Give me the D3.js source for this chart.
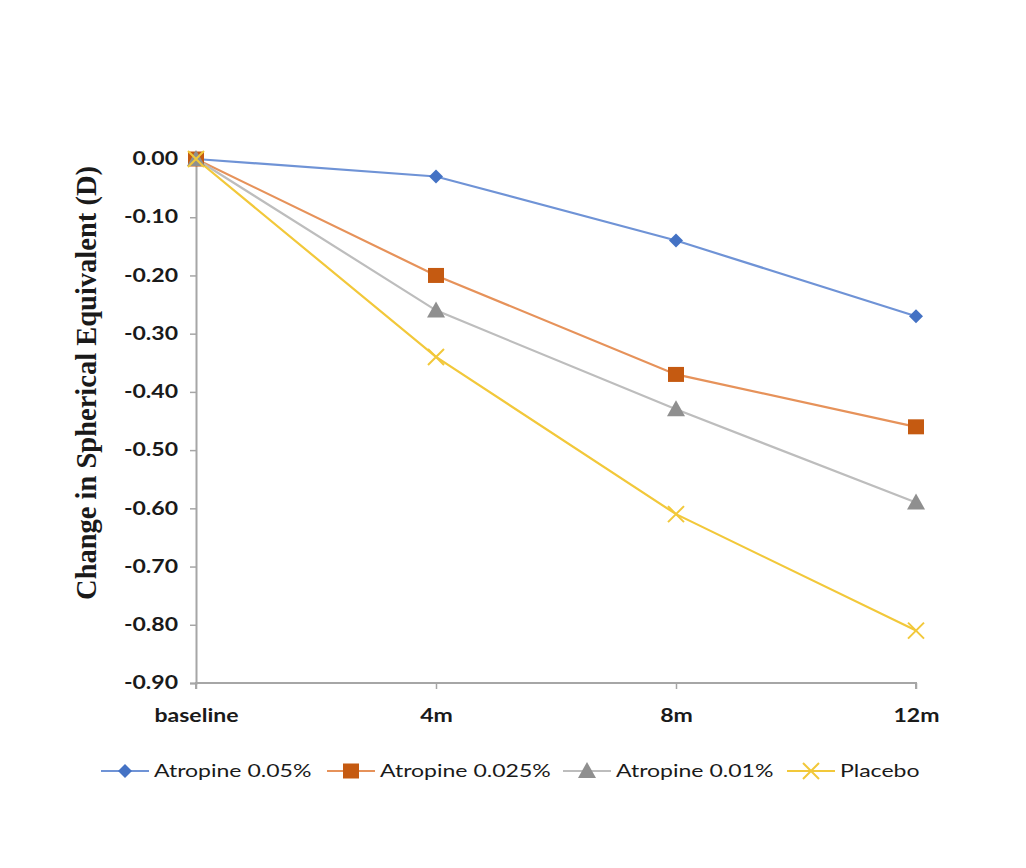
<!DOCTYPE html>
<html>
<head>
<meta charset="utf-8">
<script src="https://cdn.jsdelivr.net/npm/d3@7"></script>
<style>
  html, body { margin: 0; padding: 0; background: #fff; }
  #chart { width: 1026px; height: 868px; }
</style>
</head>
<body>
<div id="chart"></div>
<script>
(function () {
  const CATEGORIES = ["baseline", "4m", "8m", "12m"];
  const Y_TICKS = [0, -0.1, -0.2, -0.3, -0.4, -0.5, -0.6, -0.7, -0.8, -0.9];

  const SERIES_NAMES = ["Atropine 0.05%", "Atropine 0.025%", "Atropine 0.01%", "Placebo"];
  const ATROPINE_005 = [0, -0.03, -0.14, -0.27];
  const ATROPINE_0025 = [0, -0.20, -0.37, -0.46];
  const ATROPINE_001 = [0, -0.26, -0.43, -0.59];
  const PLACEBO = [0, -0.34, -0.61, -0.81];

  const series = [
    { name: SERIES_NAMES[0], values: ATROPINE_005, line: "#6f93d6", fill: "#4472c4", shape: "diamond" },
    { name: SERIES_NAMES[1], values: ATROPINE_0025, line: "#e6925a", fill: "#c55a11", shape: "square" },
    { name: SERIES_NAMES[2], values: ATROPINE_001, line: "#bdbdbd", fill: "#8f8f8f", shape: "triangle" },
    { name: SERIES_NAMES[3], values: PLACEBO, line: "#f2c83a", fill: "#f2c83a", shape: "x" }
  ];

  const W = 1026, H = 868;
  const margin = { top: 159, right: 110, bottom: 185, left: 196 };

  // the source picture is a little wide, so horizontal text is stretched to match
  const SX = 1.28;
  const stretch = (sel, ax) => sel.attr("transform", function () {
    const x0 = ax != null ? ax : +this.getAttribute("x") || 0;
    return `translate(${x0},0) scale(${SX},1) translate(${-x0},0)`;
  });

  const svg = d3.select("#chart").append("svg")
    .attr("width", W)
    .attr("height", H);

  const x = d3.scalePoint()
    .domain(CATEGORIES)
    .range([margin.left, W - margin.right]);

  const y = d3.scaleLinear()
    .domain([-0.9, 0])
    .range([H - margin.bottom, margin.top]);

  const axisColor = "#a6a6a6";
  const labelFont = "Lato, 'Open Sans', sans-serif";

  // y axis
  const gy = svg.append("g")
    .attr("transform", `translate(${margin.left},0)`)
    .call(d3.axisLeft(y).tickValues(Y_TICKS).tickFormat(d3.format(".2f")).tickSize(6).tickPadding(12));
  gy.select(".domain").attr("stroke", axisColor).attr("stroke-width", 2);
  gy.selectAll(".tick line").attr("stroke", axisColor).attr("stroke-width", 1.5);
  gy.selectAll("text")
    .attr("fill", "#1a1a1a")
    .attr("font-family", labelFont)
    .attr("font-weight", 700)
    .attr("font-size", 18)
    .text(d => d3.format(".2f")(d).replace("−", "-"))
    .call(stretch);

  // x axis
  const gx = svg.append("g")
    .attr("transform", `translate(0,${H - margin.bottom})`)
    .call(d3.axisBottom(x).tickSize(6).tickPadding(20));
  gx.select(".domain").attr("stroke", axisColor).attr("stroke-width", 2)
    .attr("d", `M${margin.left},6V0H${W - margin.right}V6`);
  gx.selectAll(".tick line").attr("stroke", axisColor).attr("stroke-width", 1.5);
  gx.selectAll("text")
    .attr("fill", "#1a1a1a")
    .attr("font-family", labelFont)
    .attr("font-weight", 700)
    .attr("font-size", 18)
    .call(stretch, 0);

  // y title
  svg.append("text")
    .attr("transform", "translate(96,383) rotate(-90)")
    .attr("text-anchor", "middle")
    .attr("font-family", "'Liberation Serif', 'Times New Roman', serif")
    .attr("font-weight", 700)
    .attr("font-size", 28.5)
    .attr("fill", "#1a1a1a")
    .text("Change in Spherical Equivalent (D)");

  function drawMarker(g, s, cx, cy) {
    if (s.shape === "diamond") {
      g.append("path").attr("d", `M${cx},${cy - 7}L${cx + 7},${cy}L${cx},${cy + 7}L${cx - 7},${cy}Z`).attr("fill", s.fill);
    } else if (s.shape === "square") {
      g.append("rect").attr("x", cx - 8).attr("y", cy - 7.5).attr("width", 16).attr("height", 15).attr("fill", s.fill);
    } else if (s.shape === "triangle") {
      g.append("path").attr("d", `M${cx},${cy - 9}L${cx + 9},${cy + 7}L${cx - 9},${cy + 7}Z`).attr("fill", s.fill);
    } else {
      g.append("path").attr("d", `M${cx - 8},${cy - 8}L${cx + 8},${cy + 8}M${cx - 8},${cy + 8}L${cx + 8},${cy - 8}`)
        .attr("stroke", s.fill).attr("stroke-width", 2).attr("fill", "none");
    }
  }

  const line = d3.line()
    .x((d, i) => x(CATEGORIES[i]))
    .y(d => y(d));

  const plotG = svg.append("g");
  series.forEach(s => {
    plotG.append("path")
      .datum(s.values)
      .attr("d", line)
      .attr("fill", "none")
      .attr("stroke", s.line)
      .attr("stroke-width", 2.2);
  });
  series.forEach(s => {
    const mg = plotG.append("g");
    s.values.forEach((v, i) => drawMarker(mg, s, x(CATEGORIES[i]), y(v)));
  });

  // legend
  const legendX = [101, 327, 563, 787];
  const legendY = 771;
  series.forEach((s, i) => {
    const lg = svg.append("g").attr("transform", `translate(${legendX[i]},${legendY})`);
    lg.append("line").attr("x1", 0).attr("x2", 48).attr("y1", 0).attr("y2", 0)
      .attr("stroke", s.line).attr("stroke-width", 2.2);
    drawMarker(lg, s, 24, 0);
    lg.append("text")
      .attr("x", 53)
      .attr("y", 0)
      .attr("dy", "0.35em")
      .attr("font-family", labelFont)
      .attr("font-weight", 400)
      .attr("font-size", 18)
      .attr("fill", "#1a1a1a")
      .text(s.name)
      .call(stretch);
  });
})();
</script>
</body>
</html>
